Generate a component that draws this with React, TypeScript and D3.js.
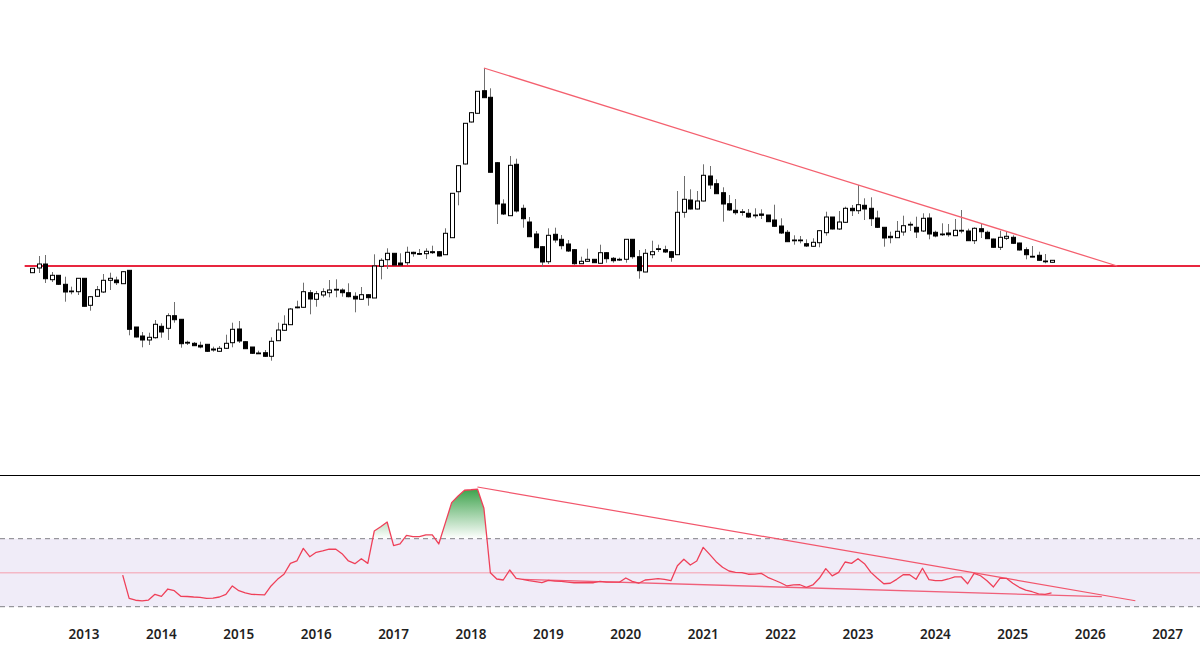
import React from "react";
import * as d3 from "d3";

const yearLabels = [2013, 2014, 2015, 2016, 2017, 2018, 2019, 2020, 2021, 2022, 2023, 2024, 2025, 2026, 2027];

// monthly candles, first candle is May 2012 (month -8 counted from Jan 2013)
const firstMonth = -8;
const opens = [227.3,232,236,220.3,224.7,215.7,209,208.3,221.7,194.7,203.7,208,219.7,220,216.3,229.7,173,164,160,162.3,173.7,171.7,184.3,180.7,157.7,156.7,154.7,155.7,151,148.7,151.7,157.3,171,158.3,153,147,147.3,143.7,159.3,169.7,175.3,193,192.7,207.3,200.7,205,207.3,210.7,210,207.3,203.7,200.7,205.3,202,233.7,240.3,246.7,237,237.3,247.7,246.5,246.3,248.3,248.3,245.3,262.3,308.3,336,378,386.7,409.3,402.7,337.3,296,284.3,335.7,291.7,278,266,253.3,238.3,265.7,260.7,256,250.3,236.3,238.7,240.7,236.7,247.3,241.7,240.3,240.7,260.7,243.3,228,245.3,251,250.3,248.3,245.3,287.7,300,291,299,324,316.3,307.3,296.3,289.7,288,286.7,285,286,285,280,274,267.7,259.7,259.7,256.3,253.7,257.3,267.3,283,271,277.7,291.7,289.3,294.7,291.7,282,272.7,263.7,262.3,268,275.3,272.7,269,282,267.7,265.7,267,264.3,269,269,259.3,271.3,267.7,261,252.7,261.7,262.7,257,250.3,243.7,244.7,238.7,237.7];
const closes = [231.7,236,221.3,224.7,215.7,208,208.3,221.7,193.7,203.3,210.3,219.7,221.7,217.3,228.3,170.7,163,160,162.7,175.7,168,184.3,180.3,156.3,157,154.3,153,148.7,150,151.7,156.7,170.7,159,151.3,146.7,146.3,143.7,158.7,170,175.7,191,192.3,208.3,201,206.3,208.3,210,210,207.3,203.3,201,205.3,202.3,234,239.7,246.7,235,235,247.7,246.3,246,248.7,247.3,244,266.7,306.7,334.3,376.7,387.3,408.7,402.3,327.7,296,286,334.7,289,281.3,263.3,252.3,238,264.7,260,254.3,249,236.3,238.7,240.7,237.3,247.3,241.3,239.3,240.7,260.7,243.3,229.3,246.7,248.3,251.3,248,242.7,287.7,300.7,291,299,324.7,315,306.3,296,290,287.3,288.3,283,284.3,284.7,278.3,273.7,267,258.3,260,260,254,257.7,269.3,283,271,278,291.7,289.3,295.3,291,281.3,272.7,262,262.3,268.7,274.3,275.7,268,281.7,266,264,266,265.3,269.7,269.7,259.3,271.7,268.3,261.3,252.7,262.7,263.7,256.7,250,245.3,243,239.7,239,239.7];
const highs = [232,244,245,228,225,223.3,213.3,222,222,204,214,226,227.3,223.3,229,230,173,168,167.3,180,176.7,186.7,198,181,159.3,158,158.3,156,153.3,154,165.3,177.3,179,159,153,149.3,150,162.7,177.3,184.7,192,199.3,217.3,210,209,211.7,220,220.7,211.7,216.7,207.7,213,206,245.7,241.7,251.7,247,246.7,253.3,248.3,251,251.7,254.3,249,271.7,307,335,377,388,409,431.7,411.7,338,300.7,344,341.3,295.3,283,269,254,271.7,272.3,265,260,251,243.3,251.3,241,255.3,248,243,242.3,261,261,250,251,259.3,255.3,254.3,249,309,324,310.7,309,335.7,334,320.7,312.7,305,301,291,291,291.7,290.7,285,295.3,281.7,270,264.7,264,260.7,261.7,270,288.3,283,289,293.3,295,315,301.7,302.7,289.3,273,268.3,279,284.3,278.3,283.3,286.7,286.7,269.3,276.7,276,281,290,271.3,272.7,276.7,269.3,261.3,269.3,268.3,264.7,257.3,252.7,254,248.3,246,240];
const lows = [227,227,217,218,215,198.3,205.7,205,193.5,189.3,203,207,210,215,216,164.7,162.5,152.7,155,161.3,162.3,160,177.3,152.3,155,154,151.7,148,148.3,148,151,152.7,157,151,146,146,143,139.3,159,169,175,191.7,192,185.7,193.3,202.7,202.7,202.7,203.3,202.7,187.7,200,194.3,202,220.7,231,234.5,233.3,235,243.3,245,241,246,243.5,245,262,294.7,335.5,377.5,386.3,402,327.5,276,285,284,287.5,272.3,263,252,233.3,236,257.3,250.7,248,235.3,236,238,237,236.5,237.3,237.3,239,237.3,241.3,221.3,227.8,241.7,248,247,238.3,245,282.3,290.5,290.5,298.5,311,306,278.3,289,285.3,284.3,282,281.7,281,278,273,266,258,255.3,256.7,253,253,252.7,264.3,270.5,270,277,284,286,280,274,272,253.3,256.7,262,264.3,269,262,268,260.7,262.7,264,263.3,264,266.7,259,256,262,261,252.3,250,260,256,249.5,240.7,242.7,239.3,236.7,237.3];

// RSI(14): starts on the 15th candle
const rsiFirstMonth = 6;
const rsiValues = [48.6,34.9,33.8,33.4,33.9,37.3,36.1,40.4,39.4,36.1,36.0,35.7,35.5,34.9,35.1,35.7,37.3,42.2,39.4,38.2,37.3,37.1,36.9,42.2,46.1,49.1,55.5,56.9,64.3,59.4,62.0,62.8,63.8,63.9,61.2,56.9,55.3,58.2,55.5,74.5,77.0,79.8,65.9,66.9,72.0,71.2,71.2,72.3,72.3,66.9,79.0,91.2,95.1,98.5,98.8,99.2,87.9,50,46.3,45.7,51.6,46.7,46.1,45.3,44.7,44.1,45.5,45.1,44.9,44.5,44.1,44.1,44.1,44.1,44.9,44.5,44.4,44.4,46.9,44.9,43.8,45.7,46.1,46.5,46.1,45.3,54.1,57.9,54.5,56.9,64.9,60.8,56.5,53.2,51,50.2,50,49.1,49.2,49.6,47.3,45.7,44.1,42.2,42.8,42.9,41.4,42.8,46.7,52.4,48.1,50.2,56.3,55.5,58.2,55.3,50.2,46.7,43.5,43.8,46.1,48.8,48.8,46.1,52.6,45.9,45.3,45.3,46.3,47.6,47.6,43.5,49.6,48.2,45.3,41.6,46.7,46.7,43.8,41.4,39.7,38.8,37.5,37.3,38.1];

// hand drawn annotations: [month, value]
const priceTrend: [number, number][] = [[62, 432], [160.2, 234]];
const supportLevel = 234;
const rsiUpperTrend: [number, number][] = [[61, 100.4], [163, 33.5]];
const rsiLowerTrend: [number, number][] = [[68, 46.1], [157.8, 35.9]];
const rsiBandLevels = [70, 30];

const W = 1200;
const H = 649;

const x = d3.scaleLinear().domain([0, 168]).range([84, 84 + 168 * 6.45]);
const y = d3.scaleLinear().domain([0, 500]).range([500, 0]);
const ry = d3.scaleLinear().domain([30, 70]).range([606.7, 538.7]);

const rsiPoints: [number, number][] = rsiValues.map((v, i) => [i + rsiFirstMonth, v]);
const rsiLine = d3.line<[number, number]>().x((d) => x(d[0])).y((d) => ry(d[1]));
const rsiArea = d3
  .area<[number, number]>()
  .x((d) => x(d[0]))
  .y0(ry(70))
  .y1((d) => ry(d[1]));
const priceLine = d3.line<[number, number]>().x((d) => x(d[0])).y((d) => y(d[1]));

const RED = "#ef4059";
const FONT = '"Noto Sans", sans-serif';

export default function App() {
  return (
    <svg
      width={W}
      height={H}
      viewBox={`0 0 ${W} ${H}`}
      style={{ position: "absolute", left: 0, top: 0, display: "block", background: "#fff" }}
    >
      <defs>
        <linearGradient id="ob" gradientUnits="userSpaceOnUse" x1="0" x2="0" y1={ry(99)} y2={ry(70)}>
          <stop offset="0" stopColor="#3fa34d" stopOpacity={1} />
          <stop offset="1" stopColor="#3fa34d" stopOpacity={0} />
        </linearGradient>
        <clipPath id="aboveBand">
          <rect x={0} y={0} width={W} height={ry(70)} />
        </clipPath>
      </defs>

      {/* price pane */}
      <line x1={x(-9.2)} x2={W} y1={y(supportLevel)} y2={y(supportLevel)} stroke="#e8263f" strokeWidth={2} />
      {opens.map((o, i) => {
        const c = closes[i];
        const cx = Math.round(x(i + firstMonth)) + 0.5;
        const top = y(Math.max(o, c));
        const bottom = y(Math.min(o, c));
        const up = c >= o;
        return (
          <g key={i}>
            <line x1={cx} x2={cx} y1={y(highs[i])} y2={y(lows[i])} stroke="#6f6f6f" strokeWidth={1} />
            <rect
              x={cx - 2}
              y={top}
              width={4}
              height={Math.max(bottom - top, 0.8)}
              fill={up ? "#fff" : "#000"}
              stroke="#000"
              strokeWidth={1}
            />
          </g>
        );
      })}
      <path d={priceLine(priceTrend) ?? ""} fill="none" stroke="#f4606f" strokeWidth={1.3} />

      {/* separator */}
      <line x1={0} x2={W} y1={475.5} y2={475.5} stroke="#000" strokeWidth={1} />

      {/* RSI pane */}
      <rect x={0} y={ry(70)} width={W} height={ry(30) - ry(70)} fill="#f0ecf8" />
      {rsiBandLevels.map((l) => (
        <line key={l} x1={0} x2={W} y1={ry(l)} y2={ry(l)} stroke="#7f7f86" strokeWidth={1} strokeDasharray="5 4" />
      ))}
      <line x1={0} x2={W} y1={ry(50)} y2={ry(50)} stroke="#f4b8c6" strokeWidth={1.4} />
      <path d={rsiArea(rsiPoints) ?? ""} fill="url(#ob)" clipPath="url(#aboveBand)" />
      <path d={rsiLine(rsiUpperTrend) ?? ""} fill="none" stroke="#f2566c" strokeWidth={1.2} />
      <path d={rsiLine(rsiLowerTrend) ?? ""} fill="none" stroke="#f0607a" strokeWidth={1.4} />
      <path d={rsiLine(rsiPoints) ?? ""} fill="none" stroke={RED} strokeWidth={1.3} strokeLinejoin="round" />

      {/* time axis */}
      {yearLabels.map((yr, i) => (
        <text
          key={yr}
          x={x(i * 12)}
          y={639}
          textAnchor="middle"
          fontFamily={FONT}
          fontSize={13.5}
          fontWeight={600}
          fill="#1f1f1f"
        >
          {yr}
        </text>
      ))}
    </svg>
  );
}
